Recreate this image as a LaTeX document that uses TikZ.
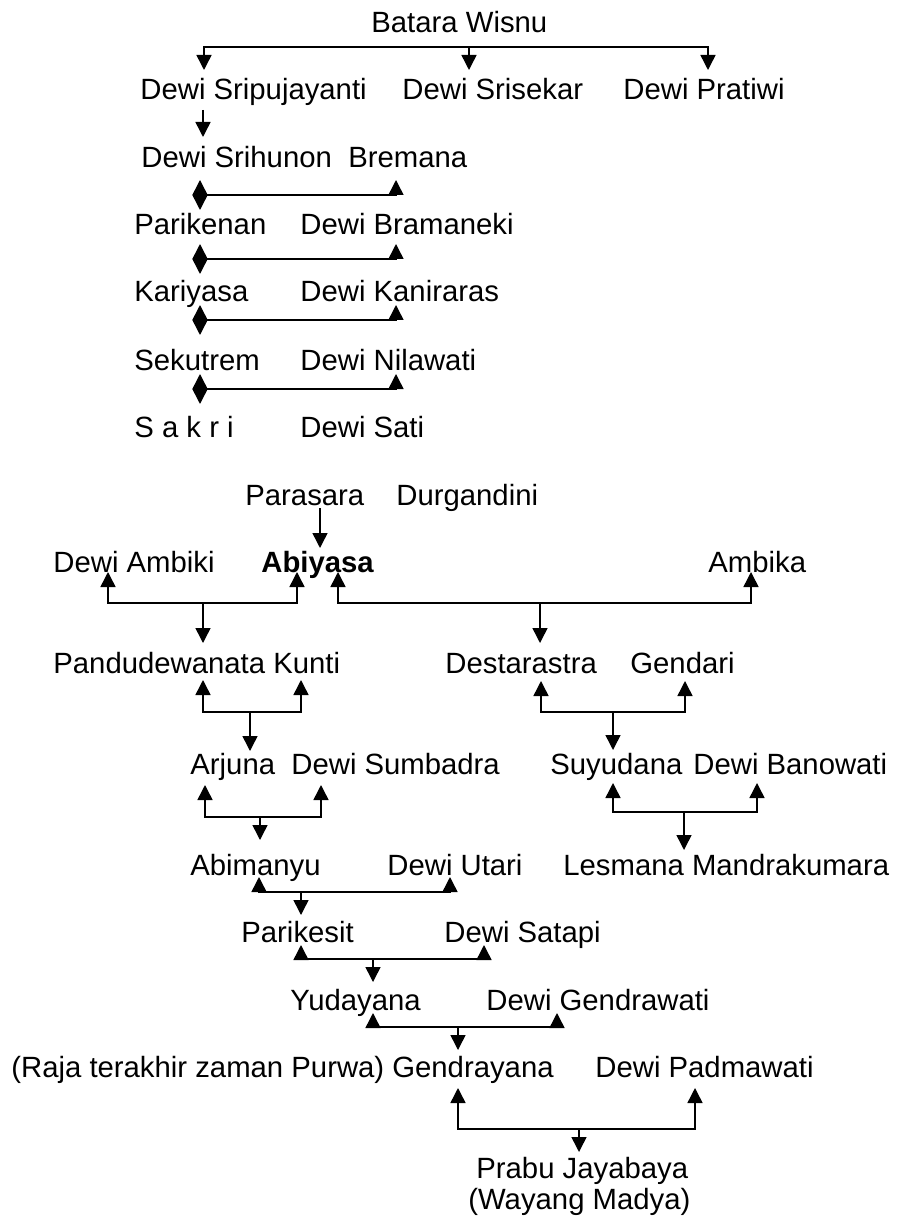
\documentclass[tikz,border=0pt]{standalone}
\usepackage{fontspec}
\setmainfont{Liberation Sans}
\usetikzlibrary{arrows.meta}

% a married pair: up arrows to both spouses, down arrow to the child
% #1 name, #2 x left, #3 x right, #4 y of up tips, #5 y of bar, #6 x child, #7 y child tip
\newcommand\couplebar[7]{%
  \coordinate (#1-l) at (#2,#4);
  \coordinate (#1-r) at (#3,#4);
  \coordinate (#1-m) at (#6,#5);
  \coordinate (#1-c) at (#6,#7);
  \draw[wire,both] (#1-l) |- (#1-m) -| (#1-r);
  \draw[wire,arr] (#1-m) -- (#1-c);
}
% a line of descent with a double head on the left: #1 name, #2 y of bar
\newcommand\descentbar[2]{%
  \coordinate (#1-u) at (200,#2-15);
  \coordinate (#1-d) at (200,#2+15);
  \coordinate (#1-m) at (200,#2);
  \coordinate (#1-r) at (396,#2-15);
  \draw[wire,both] (#1-u) -- (#1-d);
  \draw[wire,arr] (#1-m) -| (#1-r);
}

\begin{document}
\begin{tikzpicture}[x=0.5pt,y=-0.5pt,
  person/.style={anchor=base west,inner sep=0pt,font=\fontsize{14.65}{17}\selectfont},
  wire/.style={line width=0.75pt,black},
  arr/.style={-{Triangle[length=7.5pt,width=7.5pt]}},
  both/.style={{Triangle[length=7.5pt,width=7.5pt]}-{Triangle[length=7.5pt,width=7.5pt]}}]

\fill[white] (0,0) rectangle (898,1219);
\useasboundingbox (0,0) rectangle (898,1219);

% ---- Batara Wisnu line ----
\node[person] (wisnu)   at (371,33)  {Batara Wisnu};
\node[person] (sripuja) at (140,100) {Dewi Sripujayanti};
\node[person] (srisekar) at (402,100) {Dewi Srisekar};
\node[person] (pratiwi) at (623,100) {Dewi Pratiwi};

\coordinate (wisnu-m) at (469,47);
\coordinate (sripuja-t) at (204,70);
\coordinate (srisekar-t) at (469,70);
\coordinate (pratiwi-t) at (708,70);
\draw[wire,both] (sripuja-t) |- (wisnu-m) -| (pratiwi-t);
\draw[wire,arr] (wisnu-m) -- (srisekar-t);

\node[person] (srihunon) at (141,168) {Dewi Srihunon};
\node[person] (bremana)  at (348,168) {Bremana};
\coordinate (sripuja-s) at (203,110);
\coordinate (srihunon-t) at (203,137);
\draw[wire,arr] (sripuja-s) -- (srihunon-t);

\node[person] (parikenan) at (134,235) {Parikenan};
\node[person] (bramaneki) at (300,235) {Dewi Bramaneki};
\node[person] (kariyasa)  at (134,302) {Kariyasa};
\node[person] (kaniraras) at (300,302) {Dewi Kaniraras};
\node[person] (sekutrem)  at (134,370) {Sekutrem};
\node[person] (nilawati)  at (300,370) {Dewi Nilawati};
\node[person] (sakri)     at (134,437) {S a k r i};
\node[person] (sati)      at (300,437) {Dewi Sati};

\descentbar{d1}{195}
\descentbar{d2}{259}
\descentbar{d3}{320}
\descentbar{d4}{389}

% ---- Abiyasa line ----
\node[person] (parasara)   at (245,505) {Parasara};
\node[person] (durgandini) at (396,505) {Durgandini};
\node[person] (ambiki)     at (53,572)  {Dewi Ambiki};
\node[person,font=\fontsize{14.65}{17}\selectfont\bfseries] (abiyasa) at (261,572) {Abiyasa};
\node[person] (ambika)     at (708,572) {Ambika};

\coordinate (parasara-s) at (320,508);
\coordinate (abiyasa-t) at (320,548);
\draw[wire,arr] (parasara-s) -- (abiyasa-t);

\node[person] (pandu)    at (53,673)  {Pandudewanata Kunti};
\node[person] (desta)    at (445,673) {Destarastra};
\node[person] (gendari)  at (630,673) {Gendari};

\couplebar{c-pandu}{108}{297}{572}{603}{203}{643}
\couplebar{c-desta}{338}{751}{572}{603}{540}{643}

\node[person] (arjuna)    at (190,774) {Arjuna};
\node[person] (sumbadra)  at (291,774) {Dewi Sumbadra};
\node[person] (suyudana)  at (550,774) {Suyudana};
\node[person] (banowati)  at (693,774) {Dewi Banowati};

\couplebar{c-arjuna}{203}{301}{680}{712}{250}{751}
\couplebar{c-suyu}{541}{685}{681}{712}{613}{750}

\node[person] (abimanyu) at (190,875) {Abimanyu};
\node[person] (utari)    at (387,875) {Dewi Utari};
\node[person] (lesmana)  at (563,875) {Lesmana Mandrakumara};

\couplebar{c-abim}{205}{321}{785}{817}{260}{840}
\couplebar{c-lesmana}{613}{757}{783}{812}{684}{850}

\node[person] (parikesit) at (241,942) {Parikesit};
\node[person] (satapi)    at (444,942) {Dewi Satapi};

\couplebar{c-parik}{259}{450}{877}{892}{301}{915}

\node[person] (yudayana)   at (290,1010) {Yudayana};
\node[person] (gendrawati) at (486,1010) {Dewi Gendrawati};

\couplebar{c-yuda}{301}{484}{945}{959}{373}{982}

\node[person] (gendrayana) at (11,1077)  {(Raja terakhir zaman Purwa) Gendrayana};
\node[person] (padmawati)  at (595,1077) {Dewi Padmawati};

\couplebar{c-gendra}{373}{557}{1013}{1027}{458}{1050}

\node[person] (jayabaya)  at (476,1178) {Prabu Jayabaya};
\node[person] (madya)     at (468,1209) {(Wayang Madya)};

\couplebar{c-jaya}{458}{695}{1088}{1129}{579}{1152}

\end{tikzpicture}
\end{document}
